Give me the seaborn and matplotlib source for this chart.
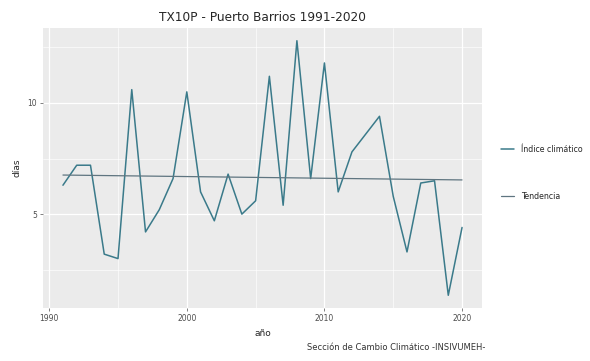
import numpy as np
import pandas as pd
import matplotlib
matplotlib.use("Agg")
import matplotlib.pyplot as plt
import seaborn as sns

# TX10P annual index, Puerto Barrios
years = list(range(1991, 2021))
tx10p = [6.3, 7.2, 7.2, 3.2, 3.0, 10.6, 4.2, 5.2, 6.6, 10.5,
         6.0, 4.7, 6.8, 5.0, 5.6, 11.2, 5.4, 12.8, 6.6, 11.8,
         6.0, 7.8, 8.6, 9.4, 5.8, 3.3, 6.4, 6.5, 1.35, 4.4]
x_ticks = [1990, 2000, 2010, 2020]
y_ticks = [5, 10]

title = "TX10P - Puerto Barrios 1991-2020"
x_label = "año"
y_label = "días"
caption = "Sección de Cambio Climático -INSIVUMEH-"
series_labels = ["Índice climático", "Tendencia"]

df = pd.DataFrame({"year": years, "value": tx10p})

# linear trend fitted to the index
slope, intercept = np.polyfit(df["year"], df["value"], 1)
df["trend"] = intercept + slope * df["year"]

sns.set_theme(style="darkgrid", rc={
    "axes.facecolor": "#EBEBEB",
    "grid.color": "white",
    "axes.edgecolor": "#EBEBEB",
})
plt.rcParams["font.family"] = ["DejaVu Sans"]

fig = plt.figure(figsize=(5.9, 3.61), dpi=100)
ax = fig.add_axes([43 / 590, 1 - 308 / 361, (482 - 43) / 590, (308 - 28) / 361])

line_color = "#3A7A8A"
trend_color = "#5F7580"
sns.lineplot(data=df, x="year", y="value", ax=ax, color=line_color,
             linewidth=1.1, label=series_labels[0])
sns.lineplot(data=df, x="year", y="trend", ax=ax, color=trend_color,
             linewidth=0.9, label=series_labels[1])

span_x = years[-1] - years[0]
ax.set_xlim(years[0] - 0.05 * span_x, years[-1] + 0.05 * span_x)
lo, hi = min(tx10p), max(tx10p)
ax.set_ylim(lo - 0.05 * (hi - lo), hi + 0.05 * (hi - lo))

ax.set_xticks(x_ticks)
ax.set_yticks(y_ticks)
ax.set_xticks([1995, 2005, 2015], minor=True)
ax.set_yticks([2.5, 7.5, 12.5], minor=True)
ax.grid(which="major", color="white", linewidth=0.9)
ax.grid(which="minor", color="white", linewidth=0.45)
ax.tick_params(axis="both", which="major", labelsize=5.5, labelcolor="#4D4D4D",
               length=2.5, width=0.5, color="#4D4D4D", pad=2, bottom=True, left=True)
ax.tick_params(axis="both", which="minor", length=0)
for s in ax.spines.values():
    s.set_visible(False)

ax.set_xlabel(x_label, fontsize=6.5, labelpad=4)
ax.set_ylabel(y_label, fontsize=6.5, labelpad=4)
ax.set_title(title, fontsize=8.7, pad=5)

handles, labels = ax.get_legend_handles_labels()
ax.legend_.remove()
leg = fig.legend(handles, labels, loc="upper left", bbox_to_anchor=(494 / 590, 1 - 138 / 361),
                 frameon=False, fontsize=5.7, labelspacing=4.75, handlelength=1.6,
                 handletextpad=0.9)

fig.text(485 / 590, 1 - 348 / 361, caption, ha="right", va="center", fontsize=6.0,
         color="#333333")

fig.savefig("out.png", dpi=100)
